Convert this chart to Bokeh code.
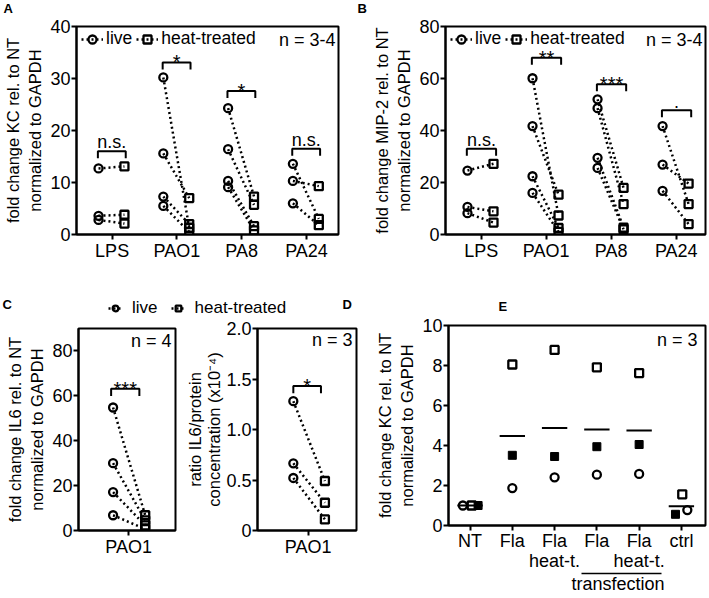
from bokeh.plotting import figure
from bokeh.models import Label, Legend, LegendItem, FixedTicker, LinearAxis, Range1d
from bokeh.layouts import row, column
from bokeh.embed import file_html
from bokeh.resources import INLINE
from bokeh.core.properties import value

FONT = "Liberation Sans"
DOT = "2 3"

# ---------------- data ----------------
a_categories = ["LPS", "PAO1", "PA8", "PA24"]
a_live = [[12.7, 3.6, 2.8], [30.2, 15.6, 7.3, 5.5], [24.3, 16.4, 10.3, 9.1], [13.6, 10.3, 6.0]]
a_heat = [[13.1, 3.8, 2.1], [1.3, 7.0, 2.0, 0.5], [7.3, 5.7, 1.6, 0.8], [3.0, 9.3, 1.8]]
a_sig_labels = ["n.s.", "*", "*", "n.s."]
a_sig_y = [16.0, 33.1, 27.6, 16.5]
a_yticks = [0, 10, 20, 30, 40]

b_categories = ["LPS", "PAO1", "PA8", "PA24"]
b_live = [[24.6, 10.6, 8.2], [60.1, 41.7, 22.4, 16.0], [52.0, 48.6, 29.5, 25.6], [41.7, 26.9, 16.8]]
b_heat = [[27.2, 8.9, 4.6], [7.3, 15.3, 2.5, 1.0], [17.9, 11.7, 2.6, 2.0], [11.7, 19.6, 4.0]]
b_sig_labels = ["n.s.", "**", "***", "."]
b_sig_y = [33.0, 68.0, 57.8, 47.8]
b_yticks = [0, 20, 40, 60, 80]

c_categories = ["PAO1"]
c_live = [[54.8, 30.0, 17.1, 6.8]]
c_heat = [[6.8, 4.5, 2.3, 0.6]]
c_sig_labels = ["***"]
c_sig_y = [63.2]
c_yticks = [0, 20, 40, 60, 80]

d_categories = ["PAO1"]
d_live = [[1.28, 0.665, 0.52]]
d_heat = [[0.49, 0.275, 0.11]]
d_sig_labels = ["*"]
d_sig_y = [1.43]
d_yticks = [0, 0.5, 1.0, 1.5, 2.0]
d_ytick_labels = ["0", "0.5", "1.0", "1.5", "2.0"]

e_categories = ["NT", "Fla", "Fla\nheat-t.", "Fla", "Fla\nheat-t.", "ctrl"]
e_open_squares = [1.0, 8.05, 8.78, 7.91, 7.62, 1.56]
e_filled_squares = [1.0, 3.51, 3.45, 3.94, 4.05, 0.56]
e_open_circles = [1.0, 1.87, 2.41, 2.54, 2.58, 0.77]
e_yticks = [0, 2, 4, 6, 8, 10]
e_group_label = "transfection"

panel_letters = ["A", "B", "C", "D", "E"]
legend_labels = ["live", "heat-treated"]

# horizontal jitter used in panel E (style only)
e_circle_dx = [-0.17, 0, 0, 0, 0, 0.14]
e_open_dx = [0.04, 0, 0, 0, 0, 0.02]
e_fill_dx = [0.19, 0, 0, 0, 0, -0.14]


# ---------------- helpers ----------------
def style_axis(ax):
    ax.axis_line_color = "black"
    ax.axis_line_width = 2
    ax.major_tick_line_color = "black"
    ax.major_tick_line_width = 2
    ax.major_tick_out = 5
    ax.major_tick_in = 0
    ax.minor_tick_line_color = None
    ax.major_label_text_font = FONT
    ax.major_label_text_font_size = "18px"
    ax.major_label_text_color = "black"
    ax.major_label_standoff = 1
    ax.axis_label_text_font = FONT
    ax.axis_label_text_font_size = "16.5px"
    ax.axis_label_text_font_style = "normal"
    ax.axis_label_text_color = "black"
    ax.axis_label_text_line_height = 1.25
    ax.axis_label_standoff = 3


def make_fig(w, h, left, right, top, bottom, xr, yr):
    p = figure(width=w, height=h,
               min_border_left=left, min_border_right=right,
               min_border_top=top, min_border_bottom=bottom,
               x_range=Range1d(*xr), y_range=Range1d(*yr),
               output_backend="svg", toolbar_location=None)
    p.xgrid.visible = False
    p.ygrid.visible = False
    p.outline_line_color = "black"
    p.outline_line_width = 2
    p.outline_line_alpha = 1
    p.background_fill_color = "white"
    p.border_fill_color = "white"
    for ax in p.axis:
        style_axis(ax)
    return p


def make_strip(w, h):
    s = figure(width=w, height=h, min_border=0, x_range=Range1d(0, 1), y_range=Range1d(0, 1),
               x_axis_location=None, y_axis_location=None,
               output_backend="svg", toolbar_location=None)
    s.xgrid.visible = False
    s.ygrid.visible = False
    s.outline_line_color = None
    s.border_fill_color = "white"
    s.background_fill_color = "white"
    return s


def set_x_categories(p, cats):
    ticks = list(range(1, len(cats) + 1))
    p.xaxis.ticker = FixedTicker(ticks=ticks)
    p.xaxis.major_label_overrides = {t: c for t, c in zip(ticks, cats)}


def add_label(p, text, x, y, size, align="left", baseline="top", bold=False):
    p.add_layout(Label(x=x, y=y, x_units="screen", y_units="screen", text=text,
                       text_font=FONT, text_font_size=size, text_align=align,
                       text_baseline=baseline, text_color="black",
                       text_font_style="bold" if bold else "normal"))


def add_letter(p, text, x, h):
    add_label(p, text, x, h / 2, "13px", baseline="middle", bold=True)


def draw_pairs(p, live, heat, dl, dh):
    xs, ys, lx, ly, hx, hy = [], [], [], [], [], []
    for i, (lv, hv) in enumerate(zip(live, heat)):
        c = i + 1
        for l, h in zip(lv, hv):
            xs.append([c + dl, c + dh])
            ys.append([l, h])
            lx.append(c + dl); ly.append(l)
            hx.append(c + dh); hy.append(h)
    p.multi_line(xs, ys, line_color="black", line_width=2.5, line_dash=DOT)
    p.scatter(lx, ly, marker="circle", size=8, fill_color=None,
              line_color="black", line_width=2.3)
    p.scatter(hx, hy, marker="square", size=8, fill_color=None,
              line_color="black", line_width=2.3)


def draw_sig(p, labels, ys, drop, bl, br):
    xs, yy = [], []
    for i, y in enumerate(ys):
        c = i + 1
        xs.append([c + bl, c + bl, c + br, c + br])
        yy.append([y - drop, y, y, y - drop])
    p.multi_line(xs, yy, line_color="black", line_width=2)
    mid = (bl + br) / 2
    star_x = [i + 1 + mid for i, t in enumerate(labels) if "*" in t]
    star_y = [ys[i] for i, t in enumerate(labels) if "*" in t]
    star_t = [t for t in labels if "*" in t]
    oth_x = [i + 1 + mid for i, t in enumerate(labels) if "*" not in t]
    oth_y = [ys[i] for i, t in enumerate(labels) if "*" not in t]
    oth_t = [t for t in labels if "*" not in t]
    if star_t:
        p.text(star_x, star_y, text=star_t, text_font=value(FONT), text_font_size="20px",
               text_align="center", text_baseline="middle", y_offset=0, text_color="black")
    if oth_t:
        p.text(oth_x, oth_y, text=oth_t, text_font=value(FONT), text_font_size="18px",
               text_align="center", text_baseline="middle", y_offset=-9, text_color="black")


def legend_items(p):
    # one hidden point far outside the visible range, so the legend can draw the glyphs
    hx, hy = [-100], [-100]
    r1 = p.line(hx, hy, line_color="black", line_width=2.5, line_dash=DOT)
    r2 = p.scatter(hx, hy, marker="circle", size=8, fill_color=None, line_color="black", line_width=2.3)
    r3 = p.line(hx, hy, line_color="black", line_width=2.5, line_dash=DOT)
    r4 = p.scatter(hx, hy, marker="square", size=8, fill_color=None, line_color="black", line_width=2.3)
    return [LegendItem(label=value(legend_labels[0]), renderers=[r1, r2]),
            LegendItem(label=value(legend_labels[1]), renderers=[r3, r4])]


def add_inside_legend(p, fh):
    leg = Legend(items=legend_items(p), location=(5, fh - 3 - 20), orientation="horizontal",
                 border_line_color=None, background_fill_alpha=0, padding=0, margin=0,
                 spacing=4, label_standoff=3, glyph_width=22, glyph_height=20, label_height=20,
                 label_text_font=FONT, label_text_font_size="17.5px", label_text_color="black")
    p.add_layout(leg)


# ---------------- top strip with letters A, B ----------------
S1 = make_strip(708, 15)
add_letter(S1, panel_letters[0], 3, 15)
add_letter(S1, panel_letters[1], 357, 15)

# ---------------- Panel A ----------------
A = make_fig(350, 283, 76, 12, 11, 64, (0.45, 4.494), (0, 40))
set_x_categories(A, a_categories)
A.yaxis.ticker = FixedTicker(ticks=a_yticks)
A.yaxis.axis_label = "fold change KC rel. to NT\nnormalized to GAPDH"
draw_pairs(A, a_live, a_heat, -0.21, 0.19)
draw_sig(A, a_sig_labels, a_sig_y, 1.35, -0.22, 0.21)
add_inside_legend(A, 208)
add_label(A, "n = 3-4", 259, 195, "18px", align="right", baseline="middle")

# ---------------- Panel B ----------------
B = make_fig(358, 283, 95, 3, 11, 64, (0.452, 4.45), (0, 80))
set_x_categories(B, b_categories)
B.yaxis.ticker = FixedTicker(ticks=b_yticks)
B.yaxis.axis_label = "fold change MIP-2 rel. to NT\nnormalized to GAPDH"
draw_pairs(B, b_live, b_heat, -0.21, 0.19)
draw_sig(B, b_sig_labels, b_sig_y, 2.7, -0.22, 0.23)
add_inside_legend(B, 208)
add_label(B, "n = 3-4", 257, 195, "18px", align="right", baseline="middle")

# ---------------- strip above C/D: letters C, D and the shared legend ----------------
S2 = make_strip(360, 20)
lg_leg = Legend(items=legend_items(S2), location=(108, 0), orientation="horizontal",
                border_line_color=None, background_fill_alpha=0, padding=0, margin=0,
                spacing=13, label_standoff=10, glyph_width=14, glyph_height=20, label_height=20,
                label_text_font=FONT, label_text_font_size="17px", label_text_color="black")
S2.add_layout(lg_leg)
add_letter(S2, panel_letters[2], 2, 28)
add_letter(S2, panel_letters[3], 342, 28)

# ---------------- strip above E: letter E ----------------
S3 = make_strip(348, 15)
add_letter(S3, panel_letters[4], 50, 15)

# ---------------- Panel C ----------------
C = make_fig(182, 279, 78, 7, 10, 67, (0.485, 1.481), (0, 90))
set_x_categories(C, c_categories)
C.yaxis.ticker = FixedTicker(ticks=c_yticks)
C.yaxis.axis_label = "fold change IL6 rel. to NT\nnormalized to GAPDH"
draw_pairs(C, c_live, c_heat, -0.16, 0.17)
draw_sig(C, c_sig_labels, c_sig_y, 3.3, -0.18, 0.11)
add_label(C, "n = 4", 93, 190, "18px", align="right", baseline="middle")

# ---------------- Panel D ----------------
D = make_fig(178, 279, 75, 4, 10, 67, (0.487, 1.49), (0, 2))
set_x_categories(D, d_categories)
D.yaxis.ticker = FixedTicker(ticks=d_yticks)
D.yaxis.major_label_overrides = {t: l for t, l in zip(d_yticks, d_ytick_labels)}
D.yaxis.axis_label = "ratio IL6/protein\nconcentration (x10\u207b\u2074)"
D.yaxis.axis_label_text_line_height = 1.1
D.yaxis.axis_label_standoff = 0
draw_pairs(D, d_live, d_heat, -0.15, 0.17)
draw_sig(D, d_sig_labels, d_sig_y, 0.07, -0.15, 0.13)
add_label(D, "n = 3", 95, 191, "18px", align="right", baseline="middle")

# ---------------- Panel E ----------------
E = make_fig(348, 284, 88, 3, 12, 72, (0.49, 6.57), (0, 10))
set_x_categories(E, e_categories)
E.xaxis.major_label_text_line_height = 1.0
E.xaxis.major_label_standoff = 0
E.yaxis.ticker = FixedTicker(ticks=e_yticks)
E.yaxis.axis_label = "fold change KC rel. to NT\nnormalized to GAPDH"
ex = list(range(1, len(e_categories) + 1))
means = [(a + b + c) / 3 for a, b, c in zip(e_open_squares, e_filled_squares, e_open_circles)]
E.segment(x0=[x - 0.3 for x in ex], y0=means, x1=[x + 0.3 for x in ex], y1=means,
          line_color="black", line_width=2)
E.scatter([x + d for x, d in zip(ex, e_open_dx)], e_open_squares, marker="square", size=8,
          fill_color=None, line_color="black", line_width=2.3)
E.scatter([x + d for x, d in zip(ex, e_fill_dx)], e_filled_squares, marker="square", size=8,
          fill_color="black", line_color="black", line_width=1)
E.scatter([x + d for x, d in zip(ex, e_circle_dx)], e_open_circles, marker="circle", size=8,
          fill_color=None, line_color="black", line_width=2.3)
grp = LinearAxis(bounds=(3.64, 5.54), ticker=FixedTicker(ticks=[4.5]))
style_axis(grp)
grp.axis_line_width = 1.5
grp.major_tick_line_color = None
grp.major_tick_out = 0
grp.major_label_standoff = 0
grp.major_label_overrides = {4.5: e_group_label}
E.add_layout(grp, "below")
add_label(E, "n = 3", 249, 186, "18px", align="right", baseline="middle")

layout = column(column(S1, row(A, B)),
                row(column(S2, row(C, D)), column(S3, E)))
open("out.html", "w").write(file_html(layout, INLINE))
